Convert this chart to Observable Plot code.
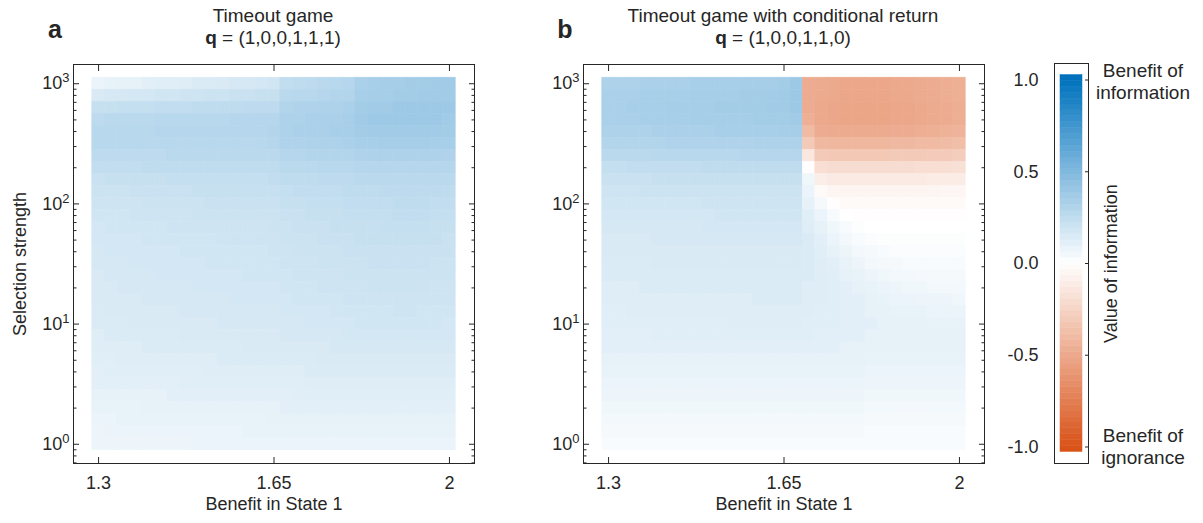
<!DOCTYPE html>
<html><head><meta charset="utf-8">
<script src="https://cdn.jsdelivr.net/npm/d3@7"></script>
<script src="https://cdn.jsdelivr.net/npm/@observablehq/plot@0.6"></script>
<style>
body{margin:0;background:#fff;}
#root{position:relative;width:1203px;height:523px;overflow:hidden;font-family:"Liberation Sans",Arial,sans-serif;color:#262626;background:#fff;}
#root > svg{position:absolute;top:0;}
.abs{position:absolute;white-space:nowrap;transform:translate(-50%,-50%);text-align:center;}
.ttl{font-size:19px;line-height:22px;}
.let{font-size:25px;font-weight:bold;}
.side{font-size:19px;line-height:22px;}
</style></head><body><div id="root"></div>
<script>
// ---- data ----
const benefits = [1.3,1.325,1.35,1.375,1.4,1.425,1.45,1.475,1.5,1.525,1.55,1.575,1.6,1.625,1.65,1.675,1.7,1.725,1.75,1.775,1.8,1.825,1.85,1.875,1.9,1.925,1.95,1.975,2.0];
const strengthExponents = [3.0,2.9,2.8,2.7,2.6,2.5,2.4,2.3,2.2,2.1,2.0,1.9,1.8,1.7,1.6,1.5,1.4,1.3,1.2,1.1,1.0,0.9,0.8,0.7,0.6,0.5,0.4,0.3,0.2,0.1,0.0];
const xTicks = [1.3, 1.65, 2];
const xTickLabels = ["1.3", "1.65", "2"];
const yTicks = [1, 10, 100, 1000];
const yTickExponents = ["0", "1", "2", "3"];
const yMinorTicks = [0.7,0.8,0.9,2,3,4,5,6,7,8,9,20,30,40,50,60,70,80,90,200,300,400,500,600,700,800,900];
const cbTicks = [1, 0.5, 0, -0.5, -1];
const cbTickLabels = ["1.0", "0.5", "0.0", "-0.5", "-1.0"];

// Panel a: value of information, rows = strength exponents (top to bottom), cols = benefits
const valueA = [
[0.08,0.09,0.10,0.10,0.11,0.12,0.12,0.13,0.14,0.14,0.15,0.16,0.16,0.17,0.18,0.24,0.25,0.26,0.27,0.28,0.29,0.33,0.34,0.35,0.35,0.36,0.36,0.37,0.37],
[0.15,0.16,0.16,0.17,0.17,0.18,0.18,0.19,0.19,0.20,0.20,0.21,0.21,0.22,0.22,0.27,0.28,0.28,0.29,0.30,0.30,0.34,0.35,0.35,0.36,0.36,0.37,0.37,0.37],
[0.22,0.22,0.23,0.23,0.23,0.24,0.24,0.24,0.25,0.25,0.25,0.25,0.26,0.26,0.26,0.30,0.31,0.31,0.32,0.32,0.33,0.36,0.37,0.37,0.38,0.38,0.38,0.38,0.38],
[0.26,0.27,0.27,0.27,0.27,0.28,0.28,0.28,0.28,0.28,0.28,0.29,0.29,0.29,0.29,0.32,0.32,0.33,0.33,0.33,0.34,0.37,0.38,0.38,0.38,0.38,0.38,0.38,0.37],
[0.28,0.28,0.28,0.28,0.28,0.29,0.29,0.29,0.29,0.29,0.29,0.29,0.29,0.29,0.30,0.32,0.33,0.33,0.33,0.34,0.34,0.36,0.37,0.37,0.37,0.37,0.37,0.37,0.36],
[0.28,0.28,0.28,0.28,0.28,0.28,0.28,0.28,0.28,0.28,0.28,0.28,0.28,0.28,0.29,0.31,0.31,0.32,0.32,0.32,0.33,0.34,0.34,0.35,0.35,0.35,0.35,0.34,0.34],
[0.26,0.26,0.26,0.26,0.26,0.26,0.27,0.27,0.27,0.27,0.27,0.27,0.27,0.27,0.27,0.29,0.29,0.30,0.30,0.30,0.30,0.31,0.32,0.32,0.32,0.32,0.32,0.32,0.31],
[0.24,0.24,0.24,0.24,0.25,0.25,0.25,0.25,0.25,0.25,0.25,0.25,0.25,0.25,0.25,0.27,0.27,0.27,0.28,0.28,0.28,0.29,0.29,0.29,0.29,0.29,0.29,0.29,0.29],
[0.21,0.22,0.22,0.22,0.22,0.22,0.23,0.23,0.23,0.23,0.23,0.23,0.23,0.23,0.24,0.25,0.25,0.25,0.26,0.26,0.26,0.27,0.27,0.27,0.27,0.27,0.27,0.27,0.27],
[0.20,0.20,0.20,0.21,0.21,0.21,0.21,0.21,0.22,0.22,0.22,0.22,0.22,0.22,0.22,0.23,0.24,0.24,0.24,0.24,0.25,0.25,0.25,0.26,0.26,0.26,0.26,0.26,0.25],
[0.19,0.19,0.19,0.19,0.20,0.20,0.20,0.20,0.20,0.21,0.21,0.21,0.21,0.21,0.21,0.22,0.22,0.23,0.23,0.23,0.24,0.24,0.24,0.24,0.25,0.25,0.25,0.24,0.24],
[0.18,0.18,0.18,0.19,0.19,0.19,0.19,0.19,0.20,0.20,0.20,0.20,0.20,0.20,0.20,0.21,0.21,0.22,0.22,0.22,0.23,0.23,0.23,0.23,0.24,0.24,0.24,0.23,0.23],
[0.17,0.18,0.18,0.18,0.18,0.18,0.19,0.19,0.19,0.19,0.19,0.19,0.19,0.19,0.20,0.20,0.21,0.21,0.21,0.22,0.22,0.22,0.22,0.23,0.23,0.23,0.23,0.22,0.22],
[0.17,0.17,0.17,0.17,0.18,0.18,0.18,0.18,0.18,0.18,0.19,0.19,0.19,0.19,0.19,0.20,0.20,0.20,0.21,0.21,0.21,0.22,0.22,0.22,0.22,0.22,0.22,0.22,0.21],
[0.16,0.17,0.17,0.17,0.17,0.17,0.17,0.18,0.18,0.18,0.18,0.18,0.18,0.18,0.19,0.19,0.20,0.20,0.20,0.20,0.21,0.21,0.21,0.21,0.21,0.21,0.21,0.21,0.21],
[0.16,0.16,0.16,0.17,0.17,0.17,0.17,0.17,0.17,0.18,0.18,0.18,0.18,0.18,0.18,0.19,0.19,0.19,0.20,0.20,0.20,0.20,0.21,0.21,0.21,0.21,0.21,0.20,0.20],
[0.15,0.16,0.16,0.16,0.16,0.17,0.17,0.17,0.17,0.17,0.17,0.17,0.18,0.18,0.18,0.18,0.19,0.19,0.19,0.19,0.20,0.20,0.20,0.20,0.20,0.20,0.20,0.20,0.20],
[0.15,0.15,0.16,0.16,0.16,0.16,0.16,0.16,0.17,0.17,0.17,0.17,0.17,0.17,0.17,0.18,0.18,0.18,0.19,0.19,0.19,0.19,0.20,0.20,0.20,0.20,0.20,0.19,0.19],
[0.15,0.15,0.15,0.15,0.16,0.16,0.16,0.16,0.16,0.16,0.16,0.17,0.17,0.17,0.17,0.17,0.18,0.18,0.18,0.18,0.19,0.19,0.19,0.19,0.19,0.19,0.19,0.19,0.19],
[0.14,0.15,0.15,0.15,0.15,0.15,0.15,0.16,0.16,0.16,0.16,0.16,0.16,0.16,0.16,0.17,0.17,0.17,0.17,0.18,0.18,0.18,0.18,0.18,0.19,0.19,0.18,0.18,0.18],
[0.14,0.14,0.14,0.15,0.15,0.15,0.15,0.15,0.15,0.15,0.16,0.16,0.16,0.16,0.16,0.16,0.16,0.17,0.17,0.17,0.17,0.18,0.18,0.18,0.18,0.18,0.18,0.18,0.17],
[0.13,0.14,0.14,0.14,0.14,0.14,0.14,0.15,0.15,0.15,0.15,0.15,0.15,0.15,0.15,0.16,0.16,0.16,0.16,0.16,0.17,0.17,0.17,0.17,0.17,0.17,0.17,0.17,0.17],
[0.13,0.13,0.13,0.13,0.14,0.14,0.14,0.14,0.14,0.14,0.14,0.14,0.15,0.15,0.15,0.15,0.15,0.15,0.15,0.16,0.16,0.16,0.16,0.16,0.16,0.16,0.16,0.16,0.16],
[0.12,0.12,0.13,0.13,0.13,0.13,0.13,0.13,0.13,0.13,0.14,0.14,0.14,0.14,0.14,0.14,0.14,0.14,0.15,0.15,0.15,0.15,0.15,0.15,0.15,0.15,0.15,0.15,0.15],
[0.11,0.12,0.12,0.12,0.12,0.12,0.12,0.12,0.12,0.13,0.13,0.13,0.13,0.13,0.13,0.13,0.13,0.14,0.14,0.14,0.14,0.14,0.14,0.14,0.14,0.14,0.14,0.14,0.14],
[0.11,0.11,0.11,0.11,0.11,0.11,0.11,0.12,0.12,0.12,0.12,0.12,0.12,0.12,0.12,0.12,0.12,0.13,0.13,0.13,0.13,0.13,0.13,0.13,0.13,0.13,0.13,0.13,0.13],
[0.10,0.10,0.10,0.10,0.10,0.10,0.11,0.11,0.11,0.11,0.11,0.11,0.11,0.11,0.11,0.11,0.12,0.12,0.12,0.12,0.12,0.12,0.12,0.12,0.12,0.12,0.12,0.12,0.12],
[0.09,0.09,0.09,0.09,0.10,0.10,0.10,0.10,0.10,0.10,0.10,0.10,0.10,0.10,0.10,0.11,0.11,0.11,0.11,0.11,0.11,0.11,0.11,0.11,0.11,0.11,0.11,0.11,0.11],
[0.08,0.08,0.09,0.09,0.09,0.09,0.09,0.09,0.09,0.09,0.09,0.09,0.09,0.09,0.10,0.10,0.10,0.10,0.10,0.10,0.10,0.10,0.10,0.10,0.10,0.10,0.10,0.10,0.10],
[0.07,0.08,0.08,0.08,0.08,0.08,0.08,0.08,0.08,0.08,0.08,0.08,0.09,0.09,0.09,0.09,0.09,0.09,0.09,0.09,0.09,0.09,0.09,0.09,0.09,0.09,0.09,0.09,0.09],
[0.07,0.07,0.07,0.07,0.07,0.07,0.07,0.07,0.08,0.08,0.08,0.08,0.08,0.08,0.08,0.08,0.08,0.08,0.08,0.08,0.08,0.08,0.08,0.08,0.08,0.08,0.08,0.08,0.08]
];

// Panel b
const valueB = [
[0.32,0.32,0.32,0.33,0.33,0.33,0.33,0.34,0.34,0.34,0.34,0.35,0.35,0.35,0.36,0.38,-0.48,-0.49,-0.50,-0.51,-0.51,-0.51,-0.51,-0.50,-0.50,-0.49,-0.48,-0.47,-0.46],
[0.33,0.33,0.33,0.34,0.34,0.34,0.34,0.35,0.35,0.35,0.35,0.36,0.36,0.36,0.37,0.38,-0.48,-0.49,-0.50,-0.51,-0.51,-0.51,-0.51,-0.50,-0.50,-0.49,-0.48,-0.47,-0.46],
[0.33,0.33,0.34,0.34,0.34,0.35,0.35,0.35,0.35,0.36,0.36,0.36,0.36,0.37,0.37,0.38,-0.48,-0.50,-0.51,-0.52,-0.52,-0.52,-0.52,-0.51,-0.51,-0.50,-0.49,-0.48,-0.47],
[0.33,0.33,0.33,0.34,0.34,0.34,0.34,0.35,0.35,0.35,0.35,0.35,0.36,0.36,0.36,0.37,-0.46,-0.50,-0.51,-0.52,-0.52,-0.52,-0.52,-0.51,-0.51,-0.50,-0.49,-0.48,-0.47],
[0.32,0.32,0.32,0.32,0.33,0.33,0.33,0.33,0.33,0.34,0.34,0.34,0.34,0.34,0.35,0.35,-0.40,-0.48,-0.49,-0.49,-0.49,-0.49,-0.49,-0.48,-0.48,-0.47,-0.46,-0.45,-0.44],
[0.30,0.30,0.30,0.30,0.30,0.31,0.31,0.31,0.31,0.31,0.31,0.31,0.32,0.32,0.32,0.32,-0.31,-0.41,-0.42,-0.42,-0.42,-0.42,-0.42,-0.41,-0.41,-0.40,-0.40,-0.39,-0.38],
[0.27,0.27,0.27,0.27,0.28,0.28,0.28,0.28,0.28,0.28,0.28,0.29,0.29,0.29,0.29,0.29,-0.14,-0.31,-0.32,-0.32,-0.32,-0.32,-0.32,-0.31,-0.31,-0.31,-0.30,-0.30,-0.29],
[0.23,0.23,0.24,0.24,0.24,0.24,0.24,0.24,0.25,0.25,0.25,0.25,0.25,0.25,0.25,0.25,-0.01,-0.19,-0.20,-0.20,-0.20,-0.20,-0.20,-0.20,-0.20,-0.19,-0.19,-0.19,-0.18],
[0.21,0.21,0.21,0.21,0.22,0.22,0.22,0.22,0.22,0.22,0.22,0.22,0.22,0.22,0.22,0.22,0.06,-0.10,-0.12,-0.12,-0.12,-0.12,-0.12,-0.12,-0.12,-0.12,-0.11,-0.11,-0.11],
[0.19,0.19,0.19,0.20,0.20,0.20,0.20,0.20,0.20,0.20,0.20,0.20,0.20,0.20,0.20,0.20,0.08,-0.03,-0.06,-0.06,-0.06,-0.06,-0.06,-0.06,-0.06,-0.06,-0.06,-0.05,-0.05],
[0.18,0.18,0.18,0.18,0.18,0.18,0.18,0.18,0.19,0.19,0.19,0.19,0.19,0.19,0.19,0.19,0.10,0.04,-0.01,-0.03,-0.03,-0.03,-0.03,-0.03,-0.03,-0.03,-0.03,-0.03,-0.03],
[0.17,0.17,0.17,0.17,0.17,0.17,0.17,0.17,0.17,0.18,0.18,0.18,0.18,0.18,0.18,0.18,0.12,0.08,0.03,0.00,-0.01,-0.01,-0.01,-0.01,-0.01,-0.01,-0.01,-0.01,-0.01],
[0.16,0.16,0.16,0.16,0.16,0.16,0.16,0.16,0.17,0.17,0.17,0.17,0.17,0.17,0.17,0.17,0.13,0.10,0.06,0.03,0.01,0.00,0.00,0.00,0.00,0.00,0.00,0.00,0.00],
[0.15,0.15,0.15,0.15,0.16,0.16,0.16,0.16,0.16,0.16,0.16,0.16,0.16,0.16,0.16,0.16,0.14,0.11,0.08,0.05,0.03,0.02,0.01,0.01,0.01,0.01,0.01,0.01,0.01],
[0.15,0.15,0.15,0.15,0.15,0.15,0.15,0.15,0.15,0.15,0.15,0.15,0.15,0.15,0.15,0.15,0.14,0.12,0.10,0.07,0.05,0.04,0.03,0.02,0.02,0.02,0.02,0.02,0.02],
[0.14,0.14,0.14,0.14,0.15,0.15,0.15,0.15,0.15,0.15,0.15,0.15,0.15,0.15,0.15,0.15,0.14,0.13,0.11,0.09,0.07,0.05,0.04,0.04,0.03,0.03,0.03,0.03,0.03],
[0.14,0.14,0.14,0.14,0.14,0.14,0.14,0.14,0.14,0.14,0.14,0.14,0.14,0.14,0.14,0.14,0.14,0.13,0.12,0.10,0.09,0.07,0.06,0.05,0.05,0.04,0.04,0.04,0.04],
[0.13,0.13,0.13,0.14,0.14,0.14,0.14,0.14,0.14,0.14,0.14,0.14,0.14,0.14,0.14,0.14,0.13,0.13,0.12,0.11,0.10,0.09,0.08,0.07,0.06,0.06,0.05,0.05,0.05],
[0.13,0.13,0.13,0.13,0.13,0.13,0.13,0.13,0.13,0.13,0.13,0.13,0.14,0.14,0.14,0.14,0.13,0.13,0.12,0.11,0.11,0.10,0.09,0.08,0.08,0.07,0.07,0.07,0.06],
[0.12,0.12,0.13,0.13,0.13,0.13,0.13,0.13,0.13,0.13,0.13,0.13,0.13,0.13,0.13,0.13,0.13,0.12,0.12,0.11,0.11,0.10,0.10,0.09,0.09,0.09,0.08,0.08,0.08],
[0.12,0.12,0.12,0.12,0.12,0.12,0.12,0.12,0.12,0.12,0.13,0.13,0.13,0.13,0.13,0.13,0.12,0.12,0.12,0.11,0.11,0.11,0.10,0.10,0.10,0.10,0.09,0.09,0.09],
[0.11,0.11,0.11,0.11,0.12,0.12,0.12,0.12,0.12,0.12,0.12,0.12,0.12,0.12,0.12,0.12,0.12,0.11,0.11,0.11,0.11,0.10,0.10,0.10,0.10,0.10,0.10,0.10,0.10],
[0.11,0.11,0.11,0.11,0.11,0.11,0.11,0.11,0.11,0.11,0.11,0.11,0.11,0.11,0.11,0.11,0.11,0.11,0.11,0.10,0.10,0.10,0.10,0.10,0.10,0.10,0.10,0.10,0.10],
[0.10,0.10,0.10,0.10,0.10,0.10,0.10,0.10,0.10,0.10,0.10,0.10,0.10,0.10,0.10,0.10,0.10,0.10,0.10,0.10,0.10,0.09,0.09,0.09,0.09,0.09,0.09,0.09,0.09],
[0.09,0.09,0.09,0.09,0.09,0.09,0.09,0.09,0.09,0.09,0.09,0.09,0.09,0.09,0.09,0.09,0.09,0.09,0.09,0.09,0.09,0.08,0.08,0.08,0.08,0.08,0.08,0.08,0.08],
[0.08,0.08,0.08,0.08,0.08,0.08,0.08,0.08,0.08,0.08,0.08,0.08,0.08,0.08,0.08,0.08,0.08,0.08,0.08,0.08,0.08,0.07,0.07,0.07,0.07,0.07,0.07,0.07,0.07],
[0.07,0.07,0.07,0.07,0.07,0.07,0.07,0.07,0.07,0.07,0.07,0.07,0.07,0.07,0.07,0.07,0.07,0.07,0.07,0.07,0.07,0.06,0.06,0.06,0.06,0.06,0.06,0.06,0.06],
[0.06,0.06,0.06,0.06,0.06,0.06,0.06,0.06,0.06,0.06,0.06,0.06,0.06,0.06,0.06,0.06,0.06,0.06,0.06,0.06,0.06,0.05,0.05,0.05,0.05,0.05,0.05,0.05,0.05],
[0.05,0.05,0.05,0.05,0.05,0.05,0.05,0.05,0.05,0.05,0.05,0.05,0.05,0.05,0.05,0.05,0.05,0.05,0.05,0.05,0.05,0.04,0.04,0.04,0.04,0.04,0.04,0.04,0.04],
[0.04,0.04,0.04,0.04,0.04,0.04,0.04,0.04,0.04,0.04,0.04,0.04,0.04,0.04,0.04,0.04,0.04,0.04,0.04,0.04,0.04,0.03,0.03,0.03,0.03,0.03,0.03,0.03,0.03],
[0.03,0.03,0.03,0.03,0.03,0.03,0.03,0.03,0.03,0.03,0.03,0.03,0.03,0.03,0.03,0.03,0.03,0.03,0.03,0.03,0.03,0.03,0.03,0.03,0.03,0.03,0.03,0.03,0.03]
];

// ---- rendering ----
const INK = "#262626";
const FONT = "'Liberation Sans', Arial, sans-serif";
const TICK_FS = 18, LABEL_FS = 18;
const colorScale = {type: "linear", domain: [-1, 0, 1], range: ["#d95319", "#ffffff", "#0072bd"], interpolate: "rgb", clamp: true};
const halfStepX = (benefits[1] - benefits[0]) / 2;
const halfStepE = (strengthExponents[0] - strengthExponents[1]) / 2;

function toCells(values) {
  const cells = [];
  strengthExponents.forEach((e, i) => benefits.forEach((b, j) => cells.push({b, e, v: values[i][j]})));
  return cells;
}

function superscripts(svg) {
  svg.querySelectorAll("text").forEach(t => {
    const m = /^10\^(-?\d+)$/.exec(t.textContent);
    if (!m) return;
    t.textContent = "10";
    const s = document.createElementNS("http://www.w3.org/2000/svg", "tspan");
    s.setAttribute("dy", "-0.55em");
    s.setAttribute("font-size", "0.72em");
    s.textContent = m[1];
    t.appendChild(s);
  });
}

function panel(values, yTitle) {
  const marks = [
    Plot.rect(toCells(values), {
      x1: d => d.b - halfStepX, x2: d => d.b + halfStepX,
      y1: d => 10 ** (d.e - halfStepE), y2: d => 10 ** (d.e + halfStepE),
      fill: "v", stroke: "v", strokeWidth: 0.6
    }),
    Plot.frame({stroke: INK, strokeWidth: 1}),
    Plot.axisX({ticks: xTicks, anchor: "bottom", tickSize: -6, tickPadding: 19, tickFormat: d => xTickLabels[xTicks.indexOf(d)], label: null, stroke: INK, fill: INK, fontSize: TICK_FS}),
    Plot.axisX({ticks: xTicks, anchor: "top", tickSize: -6, tickFormat: () => "", label: null, stroke: INK}),
    Plot.axisY({ticks: yTicks, anchor: "left", tickSize: -6, tickPadding: 10, tickFormat: d => "10^" + yTickExponents[yTicks.indexOf(d)], label: null, stroke: INK, fill: INK, fontSize: TICK_FS}),
    Plot.axisY({ticks: yTicks, anchor: "right", tickSize: -6, tickFormat: () => "", label: null, stroke: INK}),
    Plot.axisY({ticks: yMinorTicks, anchor: "left", tickSize: -3.5, tickFormat: () => "", label: null, stroke: INK}),
    Plot.axisY({ticks: yMinorTicks, anchor: "right", tickSize: -3.5, tickFormat: () => "", label: null, stroke: INK}),
    Plot.text(["Benefit in State 1"], {frameAnchor: "bottom", dy: 46, text: d => d, fill: INK, fontSize: LABEL_FS})
  ];
  if (yTitle) marks.push(Plot.text([yTitle], {frameAnchor: "left", dx: -53, rotate: -90, textAnchor: "middle", text: d => d, fill: INK, fontSize: LABEL_FS}));
  const svg = Plot.plot({
    width: 520, height: 523,
    marginLeft: 73, marginRight: 46, marginTop: 64, marginBottom: 60,
    style: {fontFamily: FONT, fontSize: TICK_FS + "px", color: INK, background: "transparent", overflow: "visible"},
    x: {domain: [1.25, 2.05]},
    y: {type: "log", domain: [10 ** -0.16, 10 ** 3.16]},
    color: colorScale,
    marks
  });
  superscripts(svg);
  return svg;
}

function colorbar() {
  const n = 64, lo = -1.027, hi = 1.027, step = (hi - lo) / n;
  const colorbarSteps = d3.range(n).map(i => ({y1: lo + i * step, y2: lo + (i + 1) * step, v: lo + (i + 0.5) * step}));
  return Plot.plot({
    width: 223, height: 523,
    marginLeft: 74, marginRight: 115, marginTop: 63, marginBottom: 60,
    style: {fontFamily: FONT, fontSize: TICK_FS + "px", color: INK, background: "transparent", overflow: "visible"},
    x: {domain: [0, 1], axis: null},
    y: {domain: [-1.09, 1.09]},
    color: colorScale,
    marks: [
      Plot.rect(colorbarSteps, {y1: "y1", y2: "y2", fill: "v", stroke: "v", strokeWidth: 0.5, insetLeft: 6, insetRight: 6}),
      Plot.frame({stroke: INK, strokeWidth: 1}),
      Plot.axisY({ticks: cbTicks, anchor: "left", tickSize: 0, tickPadding: 16, tickFormat: d => cbTickLabels[cbTicks.indexOf(d)], label: null, fill: INK, fontSize: TICK_FS}),
      Plot.axisY({ticks: cbTicks, anchor: "right", tickSize: -4, tickFormat: () => "", label: null, stroke: INK}),
      Plot.text(["Value of information"], {frameAnchor: "right", dx: 23, rotate: -90, textAnchor: "middle", text: d => d, fill: INK, fontSize: LABEL_FS})
    ]
  });
}

const root = document.getElementById("root");
const a = panel(valueA, "Selection strength"); a.style.left = "0px"; root.appendChild(a);
const b = panel(valueB, null); b.style.left = "510px"; root.appendChild(b);
const c = colorbar(); c.style.left = "980px"; root.appendChild(c);

function label(html, cls, x, y) {
  const d = document.createElement("div");
  d.className = "abs " + cls;
  d.style.left = x + "px"; d.style.top = y + "px";
  d.innerHTML = html;
  root.appendChild(d);
}
label("a", "let", 55, 29);
label("Timeout game<br><b>q</b> = (1,0,0,1,1,1)", "ttl", 273, 27);
label("b", "let", 565, 29);
label("Timeout game with conditional return<br><b>q</b> = (1,0,0,1,1,0)", "ttl", 783, 27);
label("Benefit of<br>information", "side", 1143, 82);
label("Benefit of<br>ignorance", "side", 1143, 447);
</script></body></html>
